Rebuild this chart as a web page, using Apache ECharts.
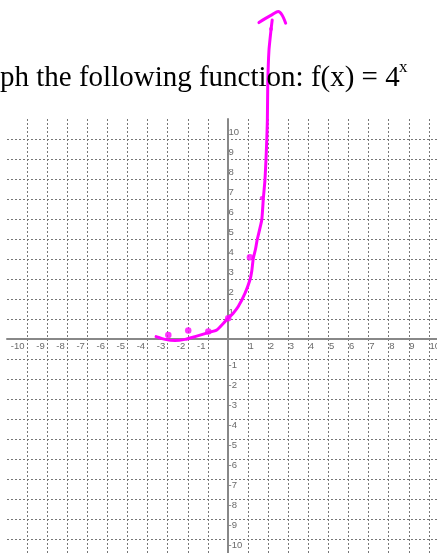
<!DOCTYPE html>
<html>
<head>
<meta charset="utf-8">
<script src="https://cdn.jsdelivr.net/npm/echarts@6/dist/echarts.min.js"></script>
<style>
  html, body { margin: 0; padding: 0; background: #fff; }
  #chart { width: 437px; height: 553px; }
</style>
</head>
<body>
<div id="chart"></div>
<script>
// Tick labels along both axes
const xTickLabels = [-10, -9, -8, -7, -6, -5, -4, -3, -2, -1, 1, 2, 3, 4, 5, 6, 7, 8, 9, 10];
const yTickLabels = [10, 9, 8, 7, 6, 5, 4, 3, 2, 1, -1, -2, -3, -4, -5, -6, -7, -8, -9, -10];

// Hand-drawn sketch of f(x) = 4^x, traced as (x, y) pairs
const strokeX = [-3.58, -3.13, -2.64, -2.14, -1.64, -0.98, -0.56, -0.15, 0.01, 0.26, 0.51, 0.85, 1.09, 1.18, 1.26, 1.37, 1.45, 1.68, 1.76, 1.84, 1.89, 1.93, 1.96, 1.98, 2.04, 2.14, 2.20];
const strokeY = [0.12, -0.02, -0.08, -0.02, 0.12, 0.32, 0.45, 0.87, 1.04, 1.29, 1.62, 2.29, 2.95, 3.37, 4.04, 4.50, 4.95, 5.95, 7.04, 7.95, 8.95, 9.95, 10.95, 12.80, 14.45, 15.45, 15.95];

// Arrow head at the top of the sketch
const arrowX = [1.54, 1.85, 2.20, 2.50, 2.69, 2.87];
const arrowY = [15.82, 16.02, 16.22, 16.37, 16.20, 15.79];

// Plotted points marked along the sketch
const dotX = [-2.97, -1.98, -0.98, 0.01, 1.09];
const dotY = [0.20, 0.42, 0.37, 1.04, 4.09];

// Small pen marks on the sketch
const markX = [1.68, 2.14];
const markY = [7.05, 15.5];

const pen = '#ff00ff';
const labelFont = { fontFamily: 'Liberation Sans', fontSize: 9.5, color: '#444' };

const zip = (xs, ys) => xs.map((x, i) => [x, ys[i]]);

const xLabelData = xTickLabels.map(v => ({
  value: [v, 0],
  label: {
    position: v < 0 ? 'left' : 'right',
    distance: v < 0 ? 2 : 0,
    offset: [0, 7],
    formatter: String(v)
  }
}));

const yLabelData = yTickLabels.map(v => ({
  value: [0, v],
  label: {
    position: 'right',
    distance: 0,
    offset: [0, v > 0 ? -6.5 : 6.5],
    formatter: String(v)
  }
}));

const gridLine = { color: '#777', width: 1, type: [2, 2] };

const chart = echarts.init(document.getElementById('chart'), null, { renderer: 'canvas' });
chart.setOption({
  animation: false,
  backgroundColor: '#fff',
  title: [
    {
      text: 'ph the following function: f(x) = 4',
      left: 0, top: 64, padding: 0,
      textStyle: { fontFamily: 'Liberation Serif', fontSize: 29, fontWeight: 'normal', color: '#000' }
    },
    {
      text: 'x',
      left: 399, top: 59, padding: 0,
      textStyle: { fontFamily: 'Liberation Serif', fontSize: 17, fontWeight: 'normal', color: '#000' }
    }
  ],
  grid: { left: 7, right: -12, top: 119, bottom: -6, containLabel: false, outerBoundsMode: 'none' },
  xAxis: {
    type: 'value', min: -11, max: 11, interval: 1,
    axisLine: { onZero: true, lineStyle: { color: '#888', width: 2 } },
    axisTick: { show: false },
    axisLabel: { show: false },
    splitLine: { show: true, showMinLine: false, showMaxLine: false, lineStyle: gridLine }
  },
  yAxis: {
    type: 'value', min: -11, max: 11, interval: 1,
    axisLine: { onZero: true, lineStyle: { color: '#888', width: 2 } },
    axisTick: { show: false },
    axisLabel: { show: false },
    splitLine: { show: true, showMinLine: false, showMaxLine: false, lineStyle: gridLine }
  },
  series: [
    {
      type: 'scatter', silent: true, symbolSize: 1,
      itemStyle: { color: 'rgba(0,0,0,0)' },
      label: Object.assign({ show: true }, labelFont),
      data: xLabelData, z: 3
    },
    {
      type: 'scatter', silent: true, symbolSize: 1,
      itemStyle: { color: 'rgba(0,0,0,0)' },
      label: Object.assign({ show: true }, labelFont),
      data: yLabelData, z: 3
    },
    {
      type: 'line', clip: false, smooth: 0.15, showSymbol: false,
      lineStyle: { color: pen, width: 3, cap: 'round', join: 'round' },
      data: zip(strokeX, strokeY), z: 5
    },
    {
      type: 'line', clip: false, smooth: 0.3, showSymbol: false,
      lineStyle: { color: pen, width: 3, cap: 'round', join: 'round' },
      data: zip(arrowX, arrowY), z: 5
    },
    {
      type: 'scatter', clip: false, symbolSize: 6.5,
      itemStyle: { color: pen },
      data: zip(dotX, dotY), z: 6
    },
    {
      type: 'scatter', clip: false, symbolSize: 4,
      itemStyle: { color: pen },
      data: zip(markX, markY), z: 6
    }
  ]
});
</script>
</body>
</html>
